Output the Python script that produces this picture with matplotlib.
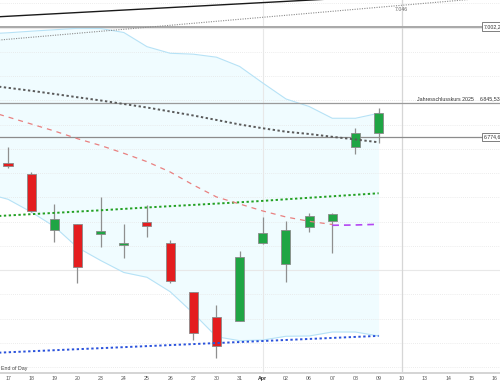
import matplotlib
matplotlib.use("Agg")
import matplotlib.pyplot as plt
from matplotlib.patches import Rectangle
import numpy as np

plt.rcParams['font.family'] = ['Liberation Sans', 'DejaVu Sans']

# ---------------- data ----------------
dates = ["17", "18", "19", "20", "23", "24", "25", "26", "27", "30", "31",
         "Apr", "02", "06", "07", "08", "09"]
future_dates = ["10", "13", "14", "15", "16"]

opens  = [6721.6, 6697.7, 6582.9, 6594.6, 6574.7, 6551.4, 6598.8, 6555.5, 6455.3,
          6404.3, 6395.9, 6555.5, 6512.2, 6588.7, 6602.3, 6753.4, 6782.2]
highs  = [6754.6, 6703.1, 6635.9, 6595.0, 6650.3, 6595.3, 6634.5, 6563.1, 6456.0,
          6429.0, 6539.6, 6610.5, 6601.5, 6618.6, 6618.6, 6792.6, 6833.8]
lows   = [6710.1, 6621.0, 6558.8, 6473.0, 6548.0, 6524.6, 6567.8, 6473.0, 6356.1,
          6318.4, 6395.0, 6555.0, 6475.1, 6579.4, 6535.9, 6739.6, 6761.6]
closes = [6714.8, 6622.7, 6606.2, 6506.6, 6581.5, 6556.1, 6591.1, 6477.1, 6369.9,
          6344.4, 6527.8, 6576.1, 6582.9, 6611.1, 6616.0, 6782.2, 6824.7]

# indicator series: first value belongs to the session before "17" (cut off at the left edge)
bb_upper = [6987.0, 6989.4, 6992.7, 6995.6, 6998.7, 6998.3, 6990.0, 6960.8, 6947.2, 6945.3,
            6939.1, 6920.0, 6885.9, 6853.0, 6837.5, 6813.2, 6813.2, 6823.5]
bb_lower = [6659.0, 6646.2, 6620.0, 6590.1, 6546.8, 6520.0, 6495.3, 6485.4, 6455.7, 6411.2,
            6362.9, 6354.7, 6356.1, 6363.8, 6364.4, 6372.6, 6372.6, 6364.4]
bb_mid_falling = [6830.0, 6815.8, 6801.4, 6787.0, 6771.1, 6757.1, 6741.0, 6723.7, 6702.5,
                  6675.7, 6651.0, 6636.5, 6622.1, 6609.7, 6600.8, 6594.2]
bb_mid_rising = [6592.6, 6593.2, 6594.6]          # sessions 07, 08, 09
ma_long = [6882.0, 6876.0, 6869.9, 6863.3, 6856.5, 6849.9, 6842.6, 6835.4, 6827.2, 6818.9,
           6809.7, 6800.4, 6792.6, 6785.5, 6780.8, 6775.0, 6769.5, 6763.7]
ma_green = [6610.2, 6612.8, 6615.5, 6618.1, 6620.8, 6623.5, 6626.4, 6629.3, 6632.0, 6634.6,
            6637.3, 6640.0, 6642.9, 6646.2, 6649.3, 6652.4, 6655.5, 6658.6]

# trend lines: value at the session before "17" and at the far right end
trend_black = [7020.9, 7079.8]
trend_gray = [6971.9, 7066.7]
trend_blue = [6328.7, 6364.6]

level_top = 7002.20
level_year = 6845.53
level_low = 6774.60
gray_trend_label = "7.046"
black_trend_label = "7.067"

# ---------------- figure ----------------
fig = plt.figure(figsize=(5.0, 3.83), dpi=100)
ax = fig.add_axes([0.0, 0.0269, 1.0, 0.9731])

n = len(dates)
x = np.arange(n)
xi = np.arange(-1, n)           # indicator x (incl. previous session)
all_labels = dates + future_dates
ax.set_xlim(-0.345, 21.24)
ax.set_ylim(6288.7, 7057.0)

# grid
for lv in np.arange(6300, 7051, 50):
    if lv in (6500, 7000):
        ax.axhline(lv, color='#e8e8e8', lw=0.8, zorder=0.3)
    else:
        ax.axhline(lv, color='#e6e6e6', lw=0.6, ls=(0, (1, 1.5)), zorder=0.3)
ax.axvline(11, color='#e8e8e8', lw=0.8, zorder=0.3)
ax.axvline(17, color='#d6d6d6', lw=0.9, zorder=0.3)

# bollinger band
ax.fill_between(xi, bb_lower, bb_upper, color='#f0fcff', lw=0, zorder=0.2)
ax.plot(xi, bb_upper, color='#b6e2f6', lw=0.8, zorder=1)
ax.plot(xi, bb_lower, color='#b6e2f6', lw=0.8, zorder=1)

# horizontal levels
ax.axhline(level_top, color='#a8a8a8', lw=1.4, zorder=1.2)
ax.axhline(level_year, color='#9a9a9a', lw=0.9, zorder=1.2)
ax.axhline(level_low, color='#8c8c8c', lw=0.9, zorder=1.2)

# candles
w = 0.39
for i in range(n):
    o, h, l, c = opens[i], highs[i], lows[i], closes[i]
    up = c >= o
    ax.vlines(x[i], l, h, color='#8f8f8f', lw=0.9, zorder=2)
    bottom = min(o, c)
    height = max(abs(c - o), 1.5)
    ax.add_patch(Rectangle((x[i] - w / 2, bottom), w, height,
                           facecolor='#1fa544' if up else '#e41d1f',
                           edgecolor='#8a8a8a', lw=0.6, zorder=2.2))

# indicator lines
ax.plot(xi, ma_long, color='#5a5a5a', lw=1.4, ls=(0, (1.2, 1.3)), zorder=3)
ax.plot(xi, ma_green, color='#22a022', lw=1.4, ls=(0, (1.2, 1.3)), zorder=3)
ax.plot(np.arange(-1, 15), bb_mid_falling, color='#e98080', lw=0.9, ls=(0, (4, 4)), zorder=3)
ax.plot(np.arange(14, 17), bb_mid_rising, color='#b447f2', lw=1.2, ls=(0, (4, 3)), zorder=3)
ax.plot([-1, 16], trend_blue, color='#2a52dc', lw=1.4, ls=(0, (1.2, 1.3)), zorder=3)
ax.plot([-1, 22], trend_gray, color='#8a8a8a', lw=0.8, ls=(0, (1, 1.2)), zorder=3)
ax.plot([-1, 22], trend_black, color='#1a1a1a', lw=1.0, zorder=3)

# texts
fs = 3.8
ax.text(17.0, 7046 - 4, gray_trend_label, ha='center', va='top', fontsize=fs, color='#666666', zorder=4)
ax.text(17.0, 7059.5, black_trend_label, ha='center', va='center', fontsize=fs, color='#666666',
        zorder=4, clip_on=True)
box = dict(boxstyle='square,pad=0.3', fc='white', ec='#6a6a6a', lw=0.6)
ax.text(20.55, level_top, "7.002,20", ha='left', va='center', fontsize=fs, color='#333333',
        bbox=box, zorder=5, clip_on=True)
ax.text(20.55, level_low, "6.774,60", ha='left', va='center', fontsize=fs, color='#333333',
        bbox=box, zorder=5, clip_on=True)
ax.text(20.12, level_year + 2, "Jahresschlusskurs 2025", ha='right', va='bottom', fontsize=fs,
        color='#333333', zorder=5)
ax.text(20.38, level_year + 2, "6.845,53", ha='left', va='bottom', fontsize=fs,
        color='#333333', zorder=5, clip_on=True)
ax.text(0.002, 0.004, "End of Day", transform=ax.transAxes, ha='left', va='bottom',
        fontsize=fs, color='#444444', zorder=5)

# axes styling
ax.set_xticks(np.arange(len(all_labels)))
ax.set_xticklabels(all_labels)
ax.tick_params(axis='x', length=0, pad=2.6, labelsize=fs, labelcolor='#555555')
for lab in ax.get_xticklabels():
    if lab.get_text() == "Apr":
        lab.set_fontweight('bold')
        lab.set_color('#333333')
ax.set_yticks([])
for s in ('top', 'left', 'right'):
    ax.spines[s].set_visible(False)
ax.spines['bottom'].set_color('#d4d4d4')
ax.spines['bottom'].set_linewidth(1.4)
ax.set_facecolor('white')

fig.savefig("out.png", dpi=100)
